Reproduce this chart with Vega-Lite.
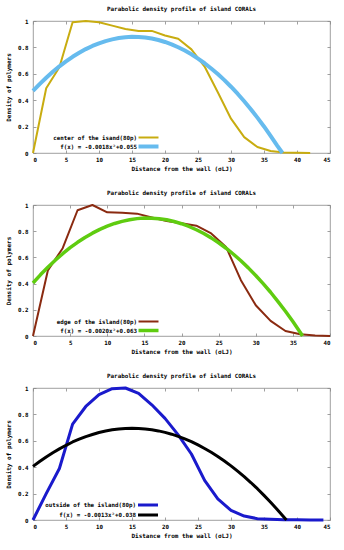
{
  "$schema": "https://vega.github.io/schema/vega-lite/v6.json",
  "padding": {"left": 5, "top": 5, "right": 5, "bottom": 4},
  "spacing": 16,
  "config": {
    "font": "DejaVu Sans Mono",
    "view": {"stroke": "#888888", "strokeWidth": 0.8},
    "axis": {"domain": false, "grid": false, "tickSize": -3, "tickColor": "#888888", "tickWidth": 0.8,
      "labelFont": "DejaVu Sans Mono", "labelFontSize": 5.8, "labelFontWeight": "bold", "labelColor": "#000000",
      "titleFont": "DejaVu Sans Mono", "titleFontSize": 6, "titleFontWeight": "bold", "titleColor": "#000000"},
    "title": {"font": "DejaVu Sans Mono", "fontSize": 5.9, "fontWeight": "bold", "color": "#000000", "offset": 6},
    "legend": {"orient": "none", "title": null, "symbolType": "M-4,0H4", "symbolSize": 25, "labelAlign": "right", "labelOffset": -16,
      "labelFont": "DejaVu Sans Mono", "labelFontSize": 5.8, "labelFontWeight": "bold", "labelColor": "#000000", "rowPadding": -4, "legendX": 111, "legendY": 113}
  },
  "datasets": {
    "p1": [
      {"x": 0, "y": 0, "s": "center of the isand(80p)"},
      {"x": 2, "y": 0.49, "s": "center of the isand(80p)"},
      {"x": 4, "y": 0.65, "s": "center of the isand(80p)"},
      {"x": 6, "y": 0.99, "s": "center of the isand(80p)"},
      {"x": 8, "y": 1.0, "s": "center of the isand(80p)"},
      {"x": 10, "y": 0.99, "s": "center of the isand(80p)"},
      {"x": 12, "y": 0.965, "s": "center of the isand(80p)"},
      {"x": 14, "y": 0.94, "s": "center of the isand(80p)"},
      {"x": 16, "y": 0.925, "s": "center of the isand(80p)"},
      {"x": 18, "y": 0.925, "s": "center of the isand(80p)"},
      {"x": 20, "y": 0.89, "s": "center of the isand(80p)"},
      {"x": 22, "y": 0.865, "s": "center of the isand(80p)"},
      {"x": 24, "y": 0.785, "s": "center of the isand(80p)"},
      {"x": 26, "y": 0.655, "s": "center of the isand(80p)"},
      {"x": 28, "y": 0.46, "s": "center of the isand(80p)"},
      {"x": 30, "y": 0.26, "s": "center of the isand(80p)"},
      {"x": 32, "y": 0.12, "s": "center of the isand(80p)"},
      {"x": 34, "y": 0.045, "s": "center of the isand(80p)"},
      {"x": 36, "y": 0.015, "s": "center of the isand(80p)"},
      {"x": 38, "y": 0.004, "s": "center of the isand(80p)"},
      {"x": 40, "y": 0.001, "s": "center of the isand(80p)"},
      {"x": 42, "y": 0, "s": "center of the isand(80p)"},
      {"x": 0, "y": 0.470, "s": "f(x) = -0.0018x²+0.055"},
      {"x": 1, "y": 0.522, "s": "f(x) = -0.0018x²+0.055"},
      {"x": 2, "y": 0.570, "s": "f(x) = -0.0018x²+0.055"},
      {"x": 3, "y": 0.615, "s": "f(x) = -0.0018x²+0.055"},
      {"x": 4, "y": 0.657, "s": "f(x) = -0.0018x²+0.055"},
      {"x": 5, "y": 0.694, "s": "f(x) = -0.0018x²+0.055"},
      {"x": 6, "y": 0.729, "s": "f(x) = -0.0018x²+0.055"},
      {"x": 7, "y": 0.759, "s": "f(x) = -0.0018x²+0.055"},
      {"x": 8, "y": 0.787, "s": "f(x) = -0.0018x²+0.055"},
      {"x": 9, "y": 0.811, "s": "f(x) = -0.0018x²+0.055"},
      {"x": 10, "y": 0.831, "s": "f(x) = -0.0018x²+0.055"},
      {"x": 11, "y": 0.848, "s": "f(x) = -0.0018x²+0.055"},
      {"x": 12, "y": 0.861, "s": "f(x) = -0.0018x²+0.055"},
      {"x": 13, "y": 0.871, "s": "f(x) = -0.0018x²+0.055"},
      {"x": 14, "y": 0.877, "s": "f(x) = -0.0018x²+0.055"},
      {"x": 15, "y": 0.880, "s": "f(x) = -0.0018x²+0.055"},
      {"x": 16, "y": 0.879, "s": "f(x) = -0.0018x²+0.055"},
      {"x": 17, "y": 0.875, "s": "f(x) = -0.0018x²+0.055"},
      {"x": 18, "y": 0.867, "s": "f(x) = -0.0018x²+0.055"},
      {"x": 19, "y": 0.856, "s": "f(x) = -0.0018x²+0.055"},
      {"x": 20, "y": 0.841, "s": "f(x) = -0.0018x²+0.055"},
      {"x": 21, "y": 0.823, "s": "f(x) = -0.0018x²+0.055"},
      {"x": 22, "y": 0.801, "s": "f(x) = -0.0018x²+0.055"},
      {"x": 23, "y": 0.776, "s": "f(x) = -0.0018x²+0.055"},
      {"x": 24, "y": 0.748, "s": "f(x) = -0.0018x²+0.055"},
      {"x": 25, "y": 0.715, "s": "f(x) = -0.0018x²+0.055"},
      {"x": 26, "y": 0.680, "s": "f(x) = -0.0018x²+0.055"},
      {"x": 27, "y": 0.640, "s": "f(x) = -0.0018x²+0.055"},
      {"x": 28, "y": 0.598, "s": "f(x) = -0.0018x²+0.055"},
      {"x": 29, "y": 0.552, "s": "f(x) = -0.0018x²+0.055"},
      {"x": 30, "y": 0.502, "s": "f(x) = -0.0018x²+0.055"},
      {"x": 31, "y": 0.449, "s": "f(x) = -0.0018x²+0.055"},
      {"x": 32, "y": 0.392, "s": "f(x) = -0.0018x²+0.055"},
      {"x": 33, "y": 0.332, "s": "f(x) = -0.0018x²+0.055"},
      {"x": 34, "y": 0.268, "s": "f(x) = -0.0018x²+0.055"},
      {"x": 35, "y": 0.201, "s": "f(x) = -0.0018x²+0.055"},
      {"x": 36, "y": 0.130, "s": "f(x) = -0.0018x²+0.055"},
      {"x": 37, "y": 0.056, "s": "f(x) = -0.0018x²+0.055"},
      {"x": 37.8, "y": 0, "s": "f(x) = -0.0018x²+0.055"}
    ],
    "p2": [
      {"x": 0, "y": 0, "s": "edge of the island(80p)"},
      {"x": 2, "y": 0.5, "s": "edge of the island(80p)"},
      {"x": 4, "y": 0.67, "s": "edge of the island(80p)"},
      {"x": 6, "y": 0.96, "s": "edge of the island(80p)"},
      {"x": 8, "y": 1.0, "s": "edge of the island(80p)"},
      {"x": 10, "y": 0.944, "s": "edge of the island(80p)"},
      {"x": 12, "y": 0.94, "s": "edge of the island(80p)"},
      {"x": 14, "y": 0.934, "s": "edge of the island(80p)"},
      {"x": 16, "y": 0.905, "s": "edge of the island(80p)"},
      {"x": 18, "y": 0.878, "s": "edge of the island(80p)"},
      {"x": 20, "y": 0.86, "s": "edge of the island(80p)"},
      {"x": 22, "y": 0.842, "s": "edge of the island(80p)"},
      {"x": 24, "y": 0.783, "s": "edge of the island(80p)"},
      {"x": 26, "y": 0.68, "s": "edge of the island(80p)"},
      {"x": 28, "y": 0.426, "s": "edge of the island(80p)"},
      {"x": 30, "y": 0.235, "s": "edge of the island(80p)"},
      {"x": 32, "y": 0.115, "s": "edge of the island(80p)"},
      {"x": 34, "y": 0.038, "s": "edge of the island(80p)"},
      {"x": 36, "y": 0.013, "s": "edge of the island(80p)"},
      {"x": 38, "y": 0.004, "s": "edge of the island(80p)"},
      {"x": 40, "y": 0, "s": "edge of the island(80p)"},
      {"x": 0, "y": 0.405, "s": "f(x) = -0.0020x²+0.063"},
      {"x": 1, "y": 0.467, "s": "f(x) = -0.0020x²+0.063"},
      {"x": 2, "y": 0.525, "s": "f(x) = -0.0020x²+0.063"},
      {"x": 3, "y": 0.579, "s": "f(x) = -0.0020x²+0.063"},
      {"x": 4, "y": 0.628, "s": "f(x) = -0.0020x²+0.063"},
      {"x": 5, "y": 0.674, "s": "f(x) = -0.0020x²+0.063"},
      {"x": 6, "y": 0.715, "s": "f(x) = -0.0020x²+0.063"},
      {"x": 7, "y": 0.752, "s": "f(x) = -0.0020x²+0.063"},
      {"x": 8, "y": 0.785, "s": "f(x) = -0.0020x²+0.063"},
      {"x": 9, "y": 0.814, "s": "f(x) = -0.0020x²+0.063"},
      {"x": 10, "y": 0.838, "s": "f(x) = -0.0020x²+0.063"},
      {"x": 11, "y": 0.859, "s": "f(x) = -0.0020x²+0.063"},
      {"x": 12, "y": 0.875, "s": "f(x) = -0.0020x²+0.063"},
      {"x": 13, "y": 0.887, "s": "f(x) = -0.0020x²+0.063"},
      {"x": 14, "y": 0.896, "s": "f(x) = -0.0020x²+0.063"},
      {"x": 15, "y": 0.900, "s": "f(x) = -0.0020x²+0.063"},
      {"x": 16, "y": 0.899, "s": "f(x) = -0.0020x²+0.063"},
      {"x": 17, "y": 0.895, "s": "f(x) = -0.0020x²+0.063"},
      {"x": 18, "y": 0.887, "s": "f(x) = -0.0020x²+0.063"},
      {"x": 19, "y": 0.874, "s": "f(x) = -0.0020x²+0.063"},
      {"x": 20, "y": 0.857, "s": "f(x) = -0.0020x²+0.063"},
      {"x": 21, "y": 0.836, "s": "f(x) = -0.0020x²+0.063"},
      {"x": 22, "y": 0.811, "s": "f(x) = -0.0020x²+0.063"},
      {"x": 23, "y": 0.782, "s": "f(x) = -0.0020x²+0.063"},
      {"x": 24, "y": 0.749, "s": "f(x) = -0.0020x²+0.063"},
      {"x": 25, "y": 0.712, "s": "f(x) = -0.0020x²+0.063"},
      {"x": 26, "y": 0.670, "s": "f(x) = -0.0020x²+0.063"},
      {"x": 27, "y": 0.624, "s": "f(x) = -0.0020x²+0.063"},
      {"x": 28, "y": 0.574, "s": "f(x) = -0.0020x²+0.063"},
      {"x": 29, "y": 0.520, "s": "f(x) = -0.0020x²+0.063"},
      {"x": 30, "y": 0.462, "s": "f(x) = -0.0020x²+0.063"},
      {"x": 31, "y": 0.400, "s": "f(x) = -0.0020x²+0.063"},
      {"x": 32, "y": 0.334, "s": "f(x) = -0.0020x²+0.063"},
      {"x": 33, "y": 0.263, "s": "f(x) = -0.0020x²+0.063"},
      {"x": 34, "y": 0.189, "s": "f(x) = -0.0020x²+0.063"},
      {"x": 35, "y": 0.110, "s": "f(x) = -0.0020x²+0.063"},
      {"x": 36, "y": 0.027, "s": "f(x) = -0.0020x²+0.063"},
      {"x": 36.3, "y": 0, "s": "f(x) = -0.0020x²+0.063"}
    ],
    "p3": [
      {"x": 0, "y": 0, "s": "outside of the island(80p)"},
      {"x": 2, "y": 0.2, "s": "outside of the island(80p)"},
      {"x": 4, "y": 0.39, "s": "outside of the island(80p)"},
      {"x": 6, "y": 0.726, "s": "outside of the island(80p)"},
      {"x": 8, "y": 0.86, "s": "outside of the island(80p)"},
      {"x": 10, "y": 0.95, "s": "outside of the island(80p)"},
      {"x": 12, "y": 0.995, "s": "outside of the island(80p)"},
      {"x": 14, "y": 1.0, "s": "outside of the island(80p)"},
      {"x": 16, "y": 0.96, "s": "outside of the island(80p)"},
      {"x": 18, "y": 0.873, "s": "outside of the island(80p)"},
      {"x": 20, "y": 0.77, "s": "outside of the island(80p)"},
      {"x": 22, "y": 0.645, "s": "outside of the island(80p)"},
      {"x": 24, "y": 0.5, "s": "outside of the island(80p)"},
      {"x": 26, "y": 0.3, "s": "outside of the island(80p)"},
      {"x": 28, "y": 0.16, "s": "outside of the island(80p)"},
      {"x": 30, "y": 0.073, "s": "outside of the island(80p)"},
      {"x": 32, "y": 0.03, "s": "outside of the island(80p)"},
      {"x": 34, "y": 0.01, "s": "outside of the island(80p)"},
      {"x": 36, "y": 0.005, "s": "outside of the island(80p)"},
      {"x": 38, "y": 0.002, "s": "outside of the island(80p)"},
      {"x": 40, "y": 0.001, "s": "outside of the island(80p)"},
      {"x": 42, "y": 0, "s": "outside of the island(80p)"},
      {"x": 44, "y": 0, "s": "outside of the island(80p)"},
      {"x": 0, "y": 0.406, "s": "f(x) = -0.0013x²+0.038"},
      {"x": 1, "y": 0.443, "s": "f(x) = -0.0013x²+0.038"},
      {"x": 2, "y": 0.478, "s": "f(x) = -0.0013x²+0.038"},
      {"x": 3, "y": 0.510, "s": "f(x) = -0.0013x²+0.038"},
      {"x": 4, "y": 0.539, "s": "f(x) = -0.0013x²+0.038"},
      {"x": 5, "y": 0.566, "s": "f(x) = -0.0013x²+0.038"},
      {"x": 6, "y": 0.591, "s": "f(x) = -0.0013x²+0.038"},
      {"x": 7, "y": 0.612, "s": "f(x) = -0.0013x²+0.038"},
      {"x": 8, "y": 0.632, "s": "f(x) = -0.0013x²+0.038"},
      {"x": 9, "y": 0.648, "s": "f(x) = -0.0013x²+0.038"},
      {"x": 10, "y": 0.663, "s": "f(x) = -0.0013x²+0.038"},
      {"x": 11, "y": 0.674, "s": "f(x) = -0.0013x²+0.038"},
      {"x": 12, "y": 0.683, "s": "f(x) = -0.0013x²+0.038"},
      {"x": 13, "y": 0.690, "s": "f(x) = -0.0013x²+0.038"},
      {"x": 14, "y": 0.694, "s": "f(x) = -0.0013x²+0.038"},
      {"x": 15, "y": 0.695, "s": "f(x) = -0.0013x²+0.038"},
      {"x": 16, "y": 0.694, "s": "f(x) = -0.0013x²+0.038"},
      {"x": 17, "y": 0.690, "s": "f(x) = -0.0013x²+0.038"},
      {"x": 18, "y": 0.684, "s": "f(x) = -0.0013x²+0.038"},
      {"x": 19, "y": 0.675, "s": "f(x) = -0.0013x²+0.038"},
      {"x": 20, "y": 0.664, "s": "f(x) = -0.0013x²+0.038"},
      {"x": 21, "y": 0.650, "s": "f(x) = -0.0013x²+0.038"},
      {"x": 22, "y": 0.633, "s": "f(x) = -0.0013x²+0.038"},
      {"x": 23, "y": 0.614, "s": "f(x) = -0.0013x²+0.038"},
      {"x": 24, "y": 0.593, "s": "f(x) = -0.0013x²+0.038"},
      {"x": 25, "y": 0.569, "s": "f(x) = -0.0013x²+0.038"},
      {"x": 26, "y": 0.542, "s": "f(x) = -0.0013x²+0.038"},
      {"x": 27, "y": 0.513, "s": "f(x) = -0.0013x²+0.038"},
      {"x": 28, "y": 0.481, "s": "f(x) = -0.0013x²+0.038"},
      {"x": 29, "y": 0.447, "s": "f(x) = -0.0013x²+0.038"},
      {"x": 30, "y": 0.410, "s": "f(x) = -0.0013x²+0.038"},
      {"x": 31, "y": 0.370, "s": "f(x) = -0.0013x²+0.038"},
      {"x": 32, "y": 0.328, "s": "f(x) = -0.0013x²+0.038"},
      {"x": 33, "y": 0.284, "s": "f(x) = -0.0013x²+0.038"},
      {"x": 34, "y": 0.237, "s": "f(x) = -0.0013x²+0.038"},
      {"x": 35, "y": 0.187, "s": "f(x) = -0.0013x²+0.038"},
      {"x": 36, "y": 0.135, "s": "f(x) = -0.0013x²+0.038"},
      {"x": 37, "y": 0.080, "s": "f(x) = -0.0013x²+0.038"},
      {"x": 38, "y": 0.023, "s": "f(x) = -0.0013x²+0.038"},
      {"x": 38.4, "y": 0, "s": "f(x) = -0.0013x²+0.038"}
    ]
  },
  "vconcat": [
    {
      "title": "Parabolic density profile of island CORALs",
      "width": 297, "height": 132,
      "data": {"name": "p1"},
      "layer": [
        {"mark": {"type": "line", "strokeJoin": "round"},
         "encoding": {
           "x": {"field": "x", "type": "quantitative", "scale": {"domain": [0, 45], "nice": false},
                 "axis": {"values": [0,5,10,15,20,25,30,35,40,45], "title": "Distance from the wall (σLJ)", "labelPadding": 6, "titlePadding": 4}},
           "y": {"field": "y", "type": "quantitative", "scale": {"domain": [0, 1], "nice": false},
                 "axis": {"values": [0,0.2,0.4,0.6,0.8,1], "format": "~g", "title": "Density of polymers", "labelPadding": 8, "titlePadding": 6}},
           "color": {"field": "s", "type": "nominal", "sort": null,
                     "scale": {"domain": ["center of the isand(80p)", "f(x) = -0.0018x²+0.055"], "range": ["#c8ac10", "#66bbee"]},
                     "legend": {"rowPadding": -4, "orient": "none", "legendX": 111, "legendY": 113}},
           "strokeWidth": {"field": "s", "type": "nominal", "sort": null,
                     "scale": {"domain": ["center of the isand(80p)", "f(x) = -0.0018x²+0.055"], "range": [2, 4]},
                     "legend": {"rowPadding": -4, "orient": "none", "legendX": 111, "legendY": 113}}
         }},
        {"mark": {"type": "line", "opacity": 0},
         "encoding": {
           "x": {"field": "x", "type": "quantitative", "axis": {"orient": "top", "values": [0,5,10,15,20,25,30,35,40,45], "labels": false, "title": null}},
           "y": {"field": "y", "type": "quantitative", "axis": {"orient": "right", "values": [0,0.2,0.4,0.6,0.8,1], "labels": false, "title": null}}
         }}
      ],
      "resolve": {"axis": {"x": "independent", "y": "independent"}}
    },
    {
      "title": "Parabolic density profile of island CORALs",
      "width": 297, "height": 131,
      "data": {"name": "p2"},
      "layer": [
        {"mark": {"type": "line", "strokeJoin": "round"},
         "encoding": {
           "x": {"field": "x", "type": "quantitative", "scale": {"domain": [0, 40], "nice": false},
                 "axis": {"values": [0,5,10,15,20,25,30,35,40], "title": "Distance from the wall (σLJ)", "labelPadding": 6, "titlePadding": 4}},
           "y": {"field": "y", "type": "quantitative", "scale": {"domain": [0, 1], "nice": false},
                 "axis": {"values": [0,0.2,0.4,0.6,0.8,1], "format": "~g", "title": "Density of polymers", "labelPadding": 8, "titlePadding": 6}},
           "color": {"field": "s", "type": "nominal", "sort": null,
                     "scale": {"domain": ["edge of the island(80p)", "f(x) = -0.0020x²+0.063"], "range": ["#8a2a10", "#5fcc10"]},
                     "legend": {"rowPadding": -4, "orient": "none", "legendX": 111, "legendY": 113}},
           "strokeWidth": {"field": "s", "type": "nominal", "sort": null,
                     "scale": {"domain": ["edge of the island(80p)", "f(x) = -0.0020x²+0.063"], "range": [2, 3.5]},
                     "legend": {"rowPadding": -4, "orient": "none", "legendX": 111, "legendY": 113}}
         }},
        {"mark": {"type": "line", "opacity": 0},
         "encoding": {
           "x": {"field": "x", "type": "quantitative", "axis": {"orient": "top", "values": [0,5,10,15,20,25,30,35,40], "labels": false, "title": null}},
           "y": {"field": "y", "type": "quantitative", "axis": {"orient": "right", "values": [0,0.2,0.4,0.6,0.8,1], "labels": false, "title": null}}
         }}
      ],
      "resolve": {"axis": {"x": "independent", "y": "independent"}}
    },
    {
      "title": "Parabolic density profile of island CORALs",
      "width": 297, "height": 132,
      "data": {"name": "p3"},
      "layer": [
        {"mark": {"type": "line", "strokeJoin": "round"},
         "encoding": {
           "x": {"field": "x", "type": "quantitative", "scale": {"domain": [0, 45], "nice": false},
                 "axis": {"values": [0,5,10,15,20,25,30,35,40,45], "title": "Distance from the wall (σLJ)", "labelPadding": 6, "titlePadding": 4}},
           "y": {"field": "y", "type": "quantitative", "scale": {"domain": [0, 1], "nice": false},
                 "axis": {"values": [0,0.2,0.4,0.6,0.8,1], "format": "~g", "title": "Density of polymers", "labelPadding": 8, "titlePadding": 6}},
           "color": {"field": "s", "type": "nominal", "sort": null,
                     "scale": {"domain": ["outside of the island(80p)", "f(x) = -0.0013x²+0.038"], "range": ["#1a1acc", "#000000"]},
                     "legend": {"rowPadding": -4, "orient": "none", "legendX": 111, "legendY": 113}},
           "strokeWidth": {"field": "s", "type": "nominal", "sort": null,
                     "scale": {"domain": ["outside of the island(80p)", "f(x) = -0.0013x²+0.038"], "range": [3, 3]},
                     "legend": {"rowPadding": -4, "orient": "none", "legendX": 111, "legendY": 113}}
         }},
        {"mark": {"type": "line", "opacity": 0},
         "encoding": {
           "x": {"field": "x", "type": "quantitative", "axis": {"orient": "top", "values": [0,5,10,15,20,25,30,35,40,45], "labels": false, "title": null}},
           "y": {"field": "y", "type": "quantitative", "axis": {"orient": "right", "values": [0,0.2,0.4,0.6,0.8,1], "labels": false, "title": null}}
         }}
      ],
      "resolve": {"axis": {"x": "independent", "y": "independent"}}
    }
  ],
  "resolve": {"scale": {"color": "independent", "strokeWidth": "independent", "x": "independent", "y": "independent"}, "legend": {"color": "independent", "strokeWidth": "independent"}}
}
